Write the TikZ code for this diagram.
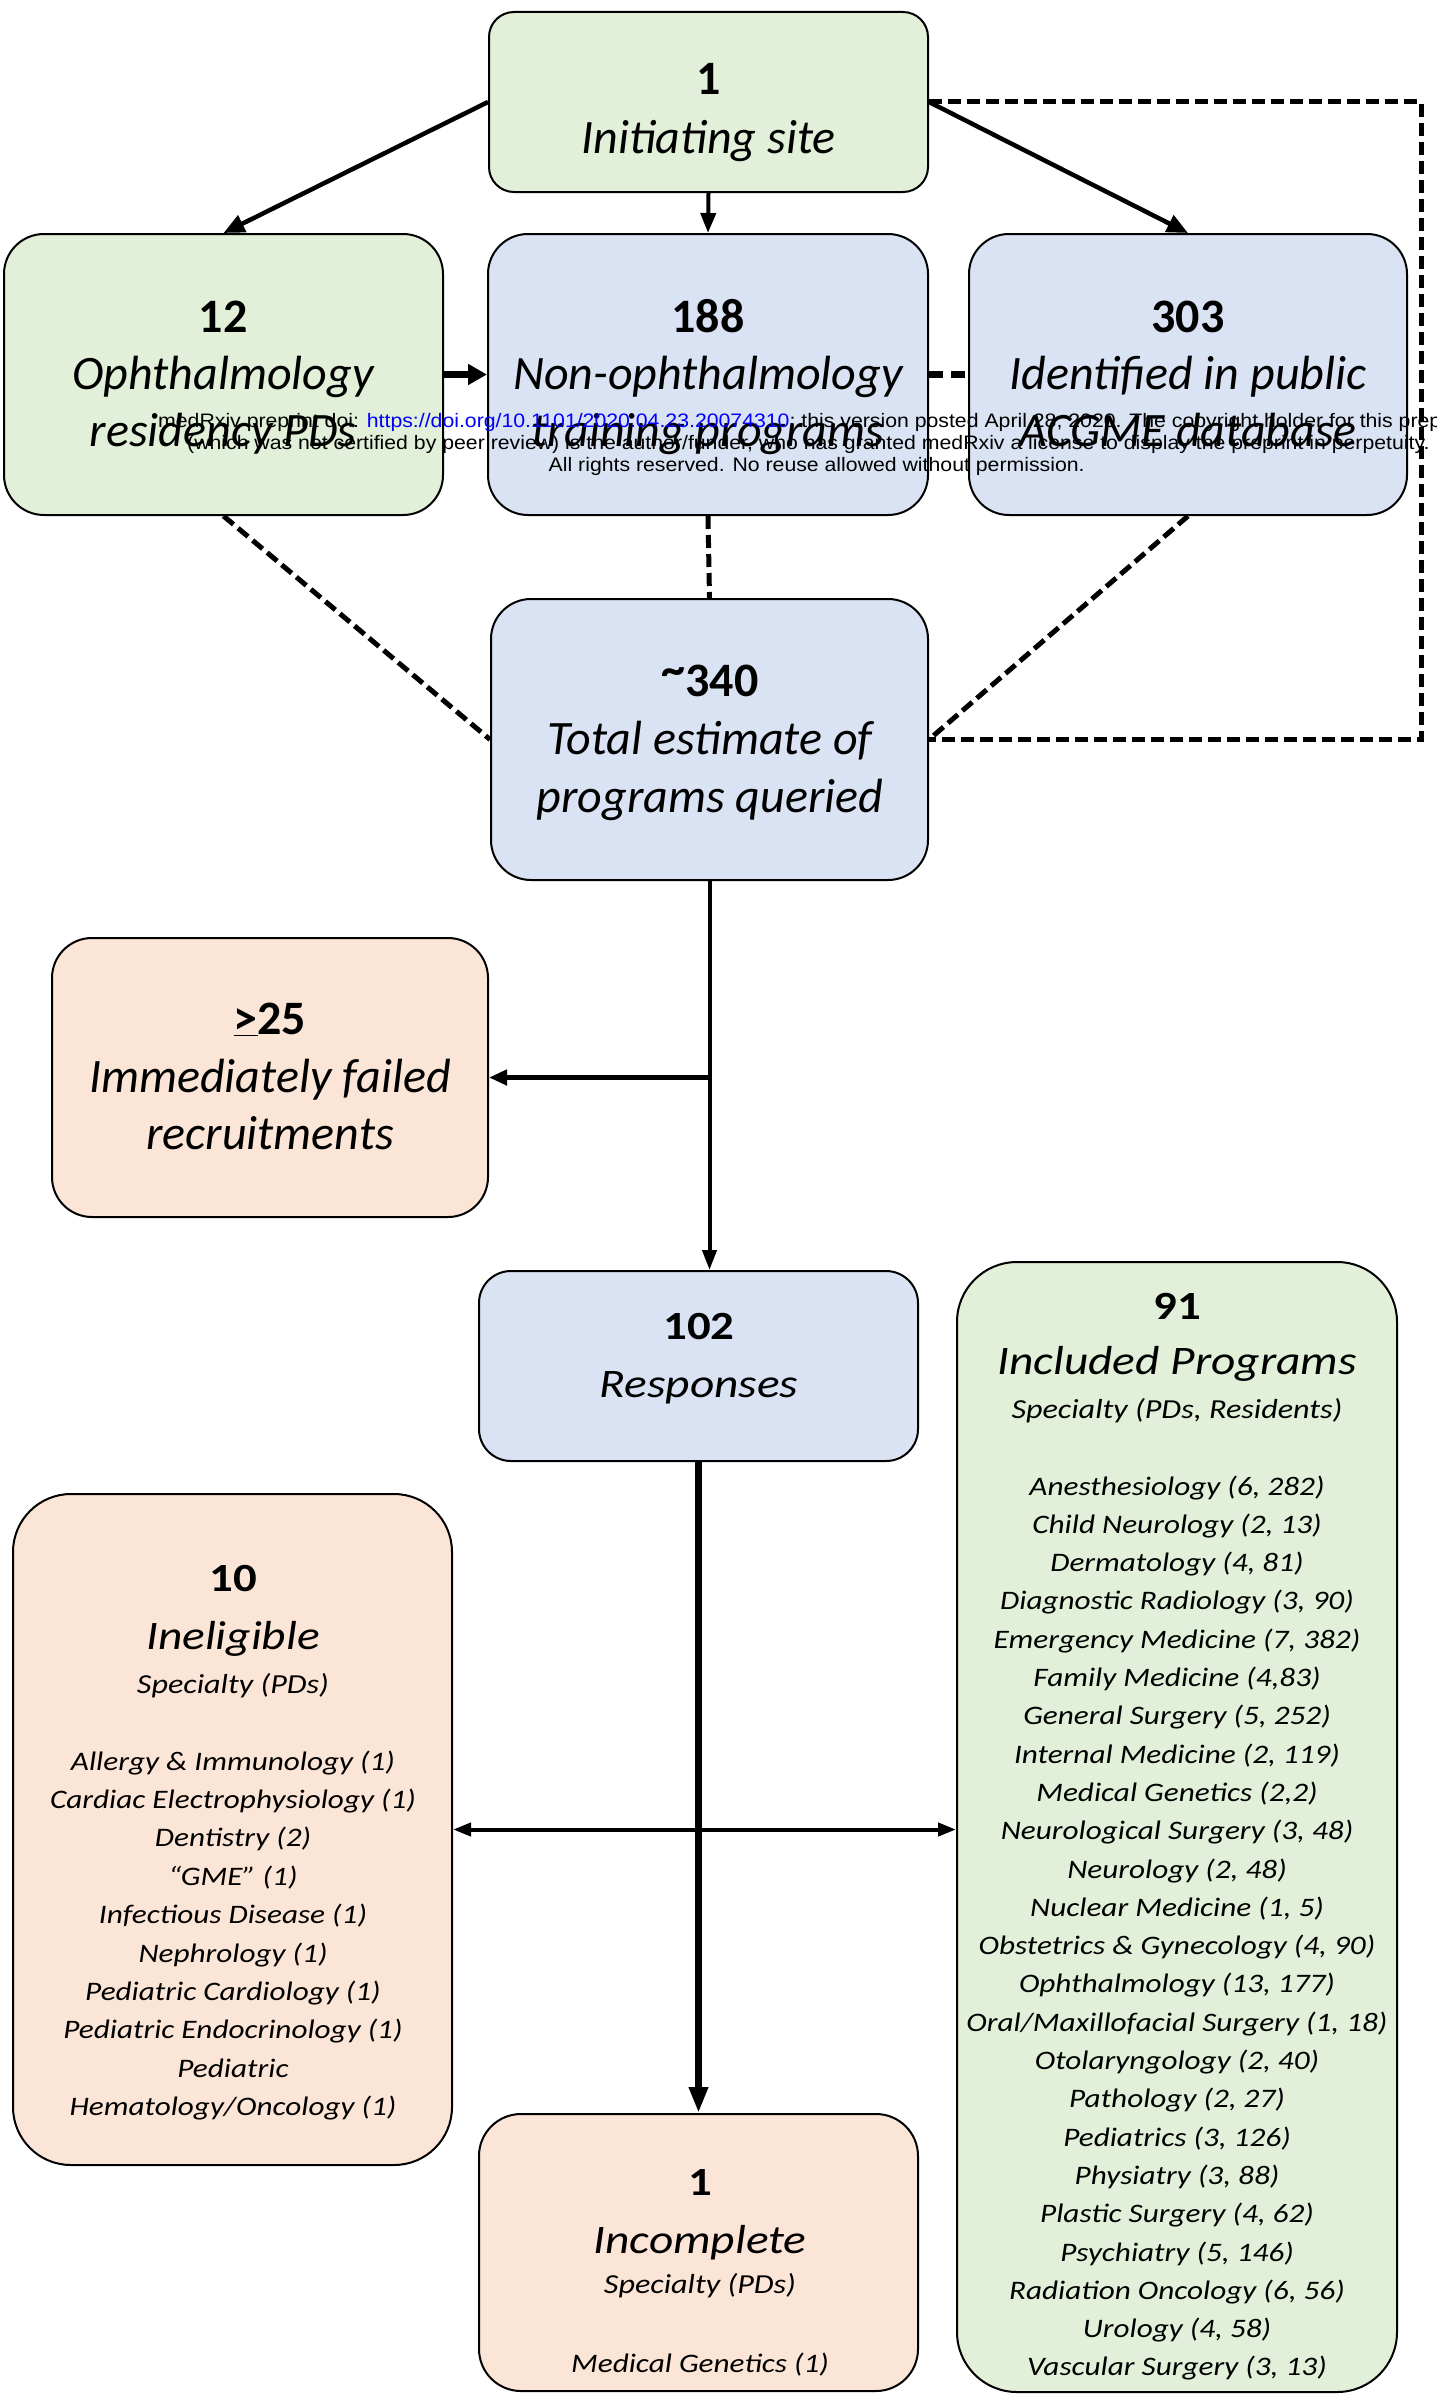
\documentclass[tikz,border=0pt]{standalone}
\usepackage{fontspec}
\setmainfont{Carlito}
\newfontfamily\widefont[FakeStretch=1.17]{Carlito}
\newfontfamily\wmfont[FakeStretch=1.09]{Liberation Sans}
\usetikzlibrary{arrows.meta,calc}
\definecolor{gfill}{HTML}{E2F0D9}
\definecolor{bfill}{HTML}{DAE3F3}
\definecolor{pfill}{HTML}{FBE5D6}
\definecolor{urlblue}{RGB}{0,0,255}
\begin{document}
\begin{tikzpicture}[x=1pt,y=-1pt,
  box/.style={draw=black,line width=2pt,inner sep=0pt,rectangle},
  tl/.style={anchor=base,inner sep=0pt},
  upnum/.style={tl,font=\fontsize{48}{58}\selectfont\bfseries},
  uptxt/.style={tl,font=\fontsize{48}{58}\selectfont\itshape},
  lonum/.style={tl,font=\widefont\fontsize{40}{58}\selectfont\bfseries},
  lotxt/.style={tl,font=\widefont\fontsize{40.5}{58}\selectfont\itshape},
  losub/.style={tl,font=\widefont\fontsize{27.5}{38}\selectfont\itshape},
  loitem/.style={tl,font=\widefont\fontsize{26.7}{38}\selectfont\itshape},
  wmline/.style={anchor=base west,inner sep=0pt,font=\wmfont\fontsize{19.5}{21.5}\selectfont},
  topar/.style={line width=4.5pt,-{Triangle[length=21pt,width=18pt]}},
  dline/.style={line width=5pt,dash pattern=on 13pt off 6pt}
]
\useasboundingbox (0,0) rectangle (1437,2395);

% boxes
\node[box,fill=gfill,rounded corners=25pt,minimum width=439pt,minimum height=180pt] (init) at (708.5,102) {};
\node[box,fill=gfill,rounded corners=40pt,minimum width=439pt,minimum height=281pt] (ophth) at (223.5,374.5) {};
\node[box,fill=bfill,rounded corners=40pt,minimum width=440pt,minimum height=281pt] (nonoph) at (708,374.5) {};
\node[box,fill=bfill,rounded corners=40pt,minimum width=438pt,minimum height=281pt] (ident) at (1188,374.5) {};
\node[box,fill=bfill,rounded corners=40pt,minimum width=437pt,minimum height=281pt] (s340) at (709.5,739.5) {};
\node[box,fill=pfill,rounded corners=40pt,minimum width=436pt,minimum height=279pt] (fail) at (270,1077.5) {};
\node[box,fill=bfill,rounded corners=32pt,minimum width=439pt,minimum height=190pt] (resp) at (698.5,1366) {};
\node[box,fill=pfill,rounded corners=58pt,minimum width=439pt,minimum height=671pt] (inel) at (232.5,1829.5) {};
\node[box,fill=gfill,rounded corners=60pt,minimum width=440pt,minimum height=1130pt] (incl) at (1177,1827) {};
\node[box,fill=pfill,rounded corners=42pt,minimum width=439pt,minimum height=277pt] (inc) at (698.5,2252.5) {};

% connectors (top)
\draw[topar] (init.west) -- (ophth.north);
\draw[topar,line width=4pt,-{Triangle[length=20pt,width=15pt]}] (init.south) -- (nonoph.north);
\draw[topar] (init.east) -- (ident.north);
\draw[line width=7.5pt,-{Triangle[length=19pt,width=20pt]}] (ophth.east) -- (nonoph.west);
\draw[line width=7.5pt,dash pattern=on 14pt off 8pt] (nonoph.east) -- (ident.west);
\coordinate (cTR) at (1421,102);
\coordinate (cBR) at (1421,739.5);
\draw[dline] (init.east) -- (cTR) -- (cBR) -- (s340.east);
\draw[dline] (ophth.south) -- (s340.west);
\draw[dline] (nonoph.south) -- (s340.north);
\draw[dline] (ident.south) -- (s340.east);

% connectors (lower)
\draw[line width=4pt,-{Triangle[length=20pt,width=14pt]}] (s340.south) -- (s340.south |- resp.north);
\coordinate (jn) at (s340.south |- fail.east);
\draw[line width=5pt,-{Triangle[length=18pt,width=15pt]}] (jn) -- (fail.east);
\draw[line width=7pt,-{Triangle[length=26pt,width=18pt]}] (resp.south) -- (inc.north);
\draw[line width=4pt,{Triangle[length=18pt,width=13pt]}-{Triangle[length=18pt,width=13pt]}] (inel.east) -- (inel.east -| incl.west);

% texts top
\node[upnum] (init1) at (708.5,95) {1};
\node[uptxt] (init2) at (708.5,153.5) {Initiating site};
\node[upnum] (oph1) at (223,332) {12};
\node[uptxt] (oph2) at (223,389) {Ophthalmology};
\node[uptxt] (oph3) at (223,446) {residency PDs};
\node[upnum] (non1) at (708,332) {188};
\node[uptxt] (non2) at (708,389) {Non-ophthalmology};
\node[uptxt] (non3) at (708,446) {training programs};
\node[upnum] (ide1) at (1188,332) {303};
\node[uptxt] (ide2) at (1188,389) {Identified in public};
\node[uptxt] (ide3) at (1188,446) {ACGME database};
\node[upnum] (tot1) at (710,696) {\raisebox{0.22em}{\textasciitilde}340};
\node[uptxt] (tot2) at (710,754) {Total estimate of};
\node[uptxt] (tot3) at (710,812) {programs queried};
\node[upnum] (fai1) at (270,1034) {\underline{>}25};
\node[uptxt] (fai2) at (270,1092) {Immediately failed};
\node[uptxt] (fai3) at (270,1149) {recruitments};

% texts lower
\node[lonum] (res1) at (699,1339.5) {102};
\node[lotxt] (res2) at (699,1397) {Responses};
\node[lonum] (inc1) at (700,2195.5) {1};
\node[lotxt] (inc2) at (700,2253) {Incomplete};
\node[losub] (inc3) at (700,2293) {Specialty (PDs)};
\node[loitem] (inc4) at (700,2372) {Medical Genetics (1)};
\node[lonum] (ine1) at (233,1591.5) {10};
\node[lotxt] (ine2) at (233,1649.5) {Ineligible};
\node[losub] (ine3) at (233,1693) {Specialty (PDs)};
\foreach \t [count=\i] in {{Allergy \& Immunology (1)},{Cardiac Electrophysiology (1)},{Dentistry (2)},{“GME” (1)},{Infectious Disease (1)},{Nephrology (1)},{Pediatric Cardiology (1)},{Pediatric Endocrinology (1)},{Pediatric},{Hematology/Oncology (1)}}
  {\node[loitem] (inel\i) at (233,{1770+(\i-1)*38.4}) {\t};}
\node[lonum] (icl1) at (1177,1319) {91};
\node[lotxt] (icl2) at (1177,1374.5) {Included Programs};
\node[losub] (icl3) at (1177,1418.5) {Specialty (PDs, Residents)};
\foreach \t [count=\i] in {{Anesthesiology (6, 282)},{Child Neurology (2, 13)},{Dermatology (4, 81)},{Diagnostic Radiology (3, 90)},{Emergency Medicine (7, 382)},{Family Medicine (4,83)},{General Surgery (5, 252)},{Internal Medicine (2, 119)},{Medical Genetics (2,2)},{Neurological Surgery (3, 48)},{Neurology (2, 48)},{Nuclear Medicine (1, 5)},{Obstetrics \& Gynecology (4, 90)},{Ophthalmology (13, 177)},{Oral/Maxillofacial Surgery (1, 18)},{Otolaryngology (2, 40)},{Pathology (2, 27)},{Pediatrics (3, 126)},{Physiatry (3, 88)},{Plastic Surgery (4, 62)},{Psychiatry (5, 146)},{Radiation Oncology (6, 56)},{Urology (4, 58)},{Vascular Surgery (3, 13)}}
  {\node[loitem] (incl\i) at (1177,{1495+(\i-1)*38.3}) {\t};}

% watermark
\node[wmline] (wm1) at (158,427) {medRxiv preprint doi: \textcolor{urlblue}{https://doi.org/10.1101/2020.04.23.20074310}; this version posted April 28, 2020. The copyright holder for this preprint};
\node[wmline] (wm2) at (187,449) {(which was not certified by peer review) is the author/funder, who has granted medRxiv a license to display the preprint in perpetuity.};
\node[wmline] (wm3) at (548.5,471) {All rights reserved. No reuse allowed without permission.};
\end{tikzpicture}
\end{document}
